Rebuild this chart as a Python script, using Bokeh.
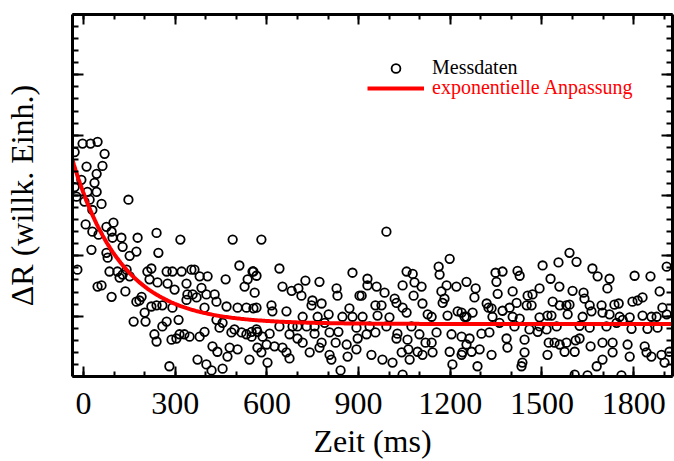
import numpy as np
from bokeh.plotting import figure
from bokeh.models import (Range1d, LinearAxis, SingleIntervalTicker, Legend, LegendItem,
                          ColumnDataSource)
from bokeh.embed import file_html
from bokeh.resources import INLINE

# ---------------- data ----------------
time_ms = [
    -29, -3, 23, 46, 69, 62, 10, 43, -7, 36, 43, 13, 147, -29, -23, 3, 20, 59, 29, 7,
    29, 49, 26, 75, 98, 92, 95, 124, 128, 177, 239, 317, 488, 75, 79, 151, 173, 245, -20, 85,
    111, 141, 151, 118, 128, 209, 222, 216, 242, 272, 291, 321, 353, 363, 380, 406, 465, 510, 553, 537,
    527, 560, 59, 137, 92, 275, 298, 337, 386, 402, 340, 357, 370, 429, 435, 468, 504, 533, 566, 190,
    183, 173, 222, 239, 258, 291, 337, 396, 200, 272, 258, 311, 164, 203, 435, 455, 494, 445, 484, 517,
    533, 550, 566, 232, 239, 288, 304, 314, 330, 347, 380, 396, 422, 438, 478, 504, 471, 569, 543, 373,
    402, 419, 455, 281, 46,
    # middle section
    582, 991, 1198, 1162, 1165, 1057, 1077, 880, 641, 556, 566, 929, 772, 726, 1083, 1044, 1106, 1188, 1220, 1253,
    651, 681, 703, 713, 828, 831, 903, 929, 959, 985, 1080, 1171, 556, 615, 618, 664, 749, 746, 779, 870,
    880, 910, 955, 975, 1018, 1024, 1044, 1057, 1109, 1126, 1139, 1175, 1181, 1191, 1224, 1253, 717, 766, 802, 847,
    913, 962, 1001, 641, 684, 700, 730, 756, 789, 893, 936, 991, 1073, 569, 609, 586, 550, 674, 700, 717,
    756, 779, 805, 834, 825, 861, 897, 926, 955, 1027, 1024, 1060, 1099, 1119, 1139, 1155, 1204, 1237, 1253, 599,
    625, 582, 651, 664, 740, 772, 805, 811, 864, 893, 942, 978, 1011, 1041, 1063, 1067, 1093, 1109, 1142, 1198,
    1207, 1237, 602, 674, 841, 1044,
    # right section
    1590, 1613, 1554, 1502, 1348, 1371, 1420, 1427, 1665, 1682, 1721, 1803, 1855, 1908, 1283, 1351, 1528, 1557, 1600, 1636,
    1714, 1885, 1404, 1355, 1279, 1319, 1453, 1469, 1492, 1639, 1796, 1813, 1829, 1325, 1335, 1371, 1394, 1417, 1450, 1466,
    1535, 1558, 1580, 1590, 1656, 1695, 1737, 1751, 1894, 1237, 1247, 1273, 1338, 1361, 1404, 1427, 1492, 1518, 1531, 1584,
    1633, 1662, 1698, 1721, 1754, 1787, 1829, 1858, 1875, 1908, 1410, 1459, 1492, 1515, 1548, 1623, 1656, 1711, 1744, 1764,
    1793, 1845, 1878, 1263, 1302, 1328, 1384, 1443, 1486, 1522, 1541, 1558, 1580, 1610, 1623, 1659, 1698, 1731, 1780, 1836,
    1240, 1270, 1296, 1335, 1387, 1443, 1518, 1574, 1607, 1731, 1787, 1842, 1858, 1891, 1917, 1289, 1436, 1433, 1679, 1698,
    1901, 1607, 1649, 1760,
]
signal = [
    3.72, 3.86, 3.86, 3.89, 3.69, 3.49, 3.48, 3.36, 3.26, 3.21, 3.06, 3.06, 2.93, 3.14, 2.98, 2.90, 2.93, 2.86, 2.76, 2.52,
    2.40, 2.35, 2.10, 2.48, 2.55, 2.40, 2.30, 2.30, 2.15, 2.30, 2.38, 2.27, 2.27, 2.05, 1.97, 2.00, 2.07, 2.05, 1.77, 1.74,
    1.74, 1.77, 1.66, 1.64, 1.69, 1.74, 1.79, 1.61, 1.56, 1.74, 1.74, 1.74, 1.77, 1.77, 1.66, 1.66, 1.61, 1.84, 1.74, 1.61,
    1.49, 1.39, 1.51, 1.41, 1.32, 1.54, 1.44, 1.54, 1.47, 1.36, 1.36, 1.36, 1.31, 1.36, 1.24, 1.16, 1.14, 1.14, 1.14, 1.32,
    1.26, 1.24, 1.16, 1.18, 1.18, 1.14, 1.27, 1.14, 1.06, 0.91, 0.83, 0.94, 0.91, 0.91, 0.94, 0.89, 0.78, 0.81, 0.73, 0.73,
    0.70, 0.74, 0.78, 0.70, 0.58, 0.61, 0.63, 0.70, 0.70, 0.66, 0.66, 0.74, 0.50, 0.41, 0.48, 0.45, 0.33, 0.48, 0.28, 0.28,
    0.20, 0.10, 0.13, 0.17, 1.49,
    # middle section
    2.27, 2.40, 1.95, 1.82, 1.69, 1.74, 1.70, 1.72, 1.79, 1.74, 1.67, 1.62, 1.57, 1.59, 1.56, 1.51, 1.49, 1.51, 1.49, 1.57,
    1.49, 1.42, 1.46, 1.34, 1.46, 1.34, 1.34, 1.51, 1.49, 1.39, 1.34, 1.41, 1.13, 1.18, 1.08, 1.08, 1.26, 1.18, 1.21, 1.13,
    0.99, 1.34, 1.18, 1.18, 1.29, 1.22, 1.14, 1.06, 1.21, 1.03, 0.99, 1.22, 1.29, 1.01, 1.08, 0.99, 0.99, 0.99, 1.03, 0.99,
    0.99, 1.01, 0.98, 0.83, 0.83, 0.83, 0.83, 0.83, 0.89, 0.81, 0.83, 0.83, 0.83, 0.74, 0.71, 0.66, 0.66, 0.70, 0.63, 0.56,
    0.71, 0.56, 0.73, 0.74, 0.56, 0.53, 0.63, 0.70, 0.73, 0.71, 0.63, 0.61, 0.70, 0.56, 0.56, 0.73, 0.70, 0.66, 0.53, 0.53,
    0.50, 0.40, 0.48, 0.40, 0.40, 0.48, 0.36, 0.28, 0.33, 0.45, 0.36, 0.28, 0.23, 0.40, 0.45, 0.28, 0.41, 0.36, 0.40, 0.41,
    0.20, 0.36, 0.23, 0.30, 0.10, 0.03,
    # right section
    2.05, 1.90, 1.89, 1.84, 1.72, 1.74, 1.75, 1.67, 1.79, 1.66, 1.62, 1.67, 1.66, 1.82, 1.46, 1.57, 1.62, 1.49, 1.42, 1.39,
    1.46, 1.41, 1.41, 1.37, 1.31, 1.21, 1.34, 1.36, 1.46, 1.29, 1.24, 1.26, 1.31, 1.14, 1.13, 1.09, 1.14, 1.22, 1.18, 1.18,
    1.24, 1.18, 1.18, 1.19, 1.18, 1.18, 1.19, 1.21, 1.14, 1.06, 0.99, 1.06, 0.99, 0.89, 0.99, 0.96, 0.98, 1.01, 1.01, 1.03,
    0.99, 1.08, 1.06, 1.03, 0.99, 0.98, 1.01, 0.99, 0.99, 1.03, 0.83, 0.78, 0.83, 0.78, 0.83, 0.84, 0.81, 0.83, 0.89, 0.94,
    0.79, 0.79, 0.81, 0.63, 0.71, 0.73, 0.63, 0.61, 0.74, 0.56, 0.56, 0.53, 0.56, 0.60, 0.63, 0.50, 0.56, 0.56, 0.53, 0.50,
    0.40, 0.41, 0.45, 0.36, 0.48, 0.40, 0.36, 0.41, 0.41, 0.40, 0.33, 0.40, 0.33, 0.36, 0.41, 0.17, 0.23, 0.17, 0.17, 0.28,
    0.23, 0.03, 0.02, 0.02,
]

# exponential fit parameters  y = offset + amplitude * exp(-t / tau)
fit_offset = 0.87
fit_amplitude = 2.17
fit_tau = 160.0

x_ticks_major = 300
y_ticks_major = 1

# ---------------- figure ----------------
SERIF = "Liberation Serif"
p = figure(width=674, height=461, output_backend="svg", toolbar_location=None,
           x_range=Range1d(-36, 1927), y_range=Range1d(0, 6),
           x_axis_type=None, y_axis_type=None,
           min_border_left=72, min_border_right=2, min_border_top=14, min_border_bottom=84)
p.grid.visible = False
p.outline_line_color = None
p.background_fill_color = "white"
p.border_fill_color = "white"

src = ColumnDataSource(dict(t=time_ms, s=signal))
sc = p.scatter("t", "s", source=src, size=8.5, marker="circle", fill_color=None,
               line_color="black", line_width=1.8)

t_fit = np.linspace(-36, 1927, 400)
y_fit = fit_offset + fit_amplitude * np.exp(-t_fit / fit_tau)
ln = p.line(t_fit, y_fit, line_color="red", line_width=4)

bx = LinearAxis()
top = LinearAxis()
ly = LinearAxis()
right = LinearAxis()
p.add_layout(bx, "below")
p.add_layout(top, "above")
p.add_layout(ly, "left")
p.add_layout(right, "right")

for ax in [bx, top]:
    ax.ticker = SingleIntervalTicker(interval=x_ticks_major, num_minor_ticks=3)
for ax in [ly, right]:
    ax.ticker = SingleIntervalTicker(interval=y_ticks_major, num_minor_ticks=5)

for ax in [bx, top, ly, right]:
    ax.axis_line_width = 3
    ax.axis_line_color = "black"
    ax.major_tick_in = 10
    ax.major_tick_out = 0
    ax.minor_tick_in = 5
    ax.minor_tick_out = 0
    ax.major_tick_line_width = 2
    ax.minor_tick_line_width = 2
    ax.major_tick_line_color = "black"
    ax.minor_tick_line_color = "black"

for ax in [top, ly, right]:
    ax.major_label_text_font_size = "0px"
    ax.major_label_standoff = 0

for ax in [ly, right]:
    ax.major_tick_in = 11
    ax.minor_tick_in = 6

bx.major_label_text_font = SERIF
bx.major_label_text_font_size = "32px"
bx.major_label_text_font_style = "normal"
bx.major_label_text_color = "black"
bx.major_label_standoff = 16
bx.axis_label = "Zeit (ms)"
bx.axis_label_text_font = SERIF
bx.axis_label_text_font_size = "32px"
bx.axis_label_text_font_style = "normal"
bx.axis_label_text_color = "black"
bx.axis_label_standoff = 6

ly.axis_label = "\u0394R (willk. Einh.)"
ly.axis_label_text_font = SERIF
ly.axis_label_text_font_size = "32px"
ly.axis_label_text_font_style = "normal"
ly.axis_label_text_color = "black"
ly.axis_label_standoff = 33

common = dict(border_line_color=None, background_fill_alpha=0, padding=0, margin=0, spacing=0,
              glyph_width=57, glyph_height=22, label_height=22, label_standoff=8,
              label_text_font=SERIF, label_text_font_size="20px")
leg1 = Legend(items=[LegendItem(label="Messdaten", renderers=[sc])], location=(295, 297),
              label_text_color="black", **common)
leg2 = Legend(items=[LegendItem(label="exponentielle Anpassung", renderers=[ln])], location=(295, 277),
              label_text_color="red", **common)
p.add_layout(leg1)
p.add_layout(leg2)

open("out.html", "w").write(file_html(p, INLINE))
